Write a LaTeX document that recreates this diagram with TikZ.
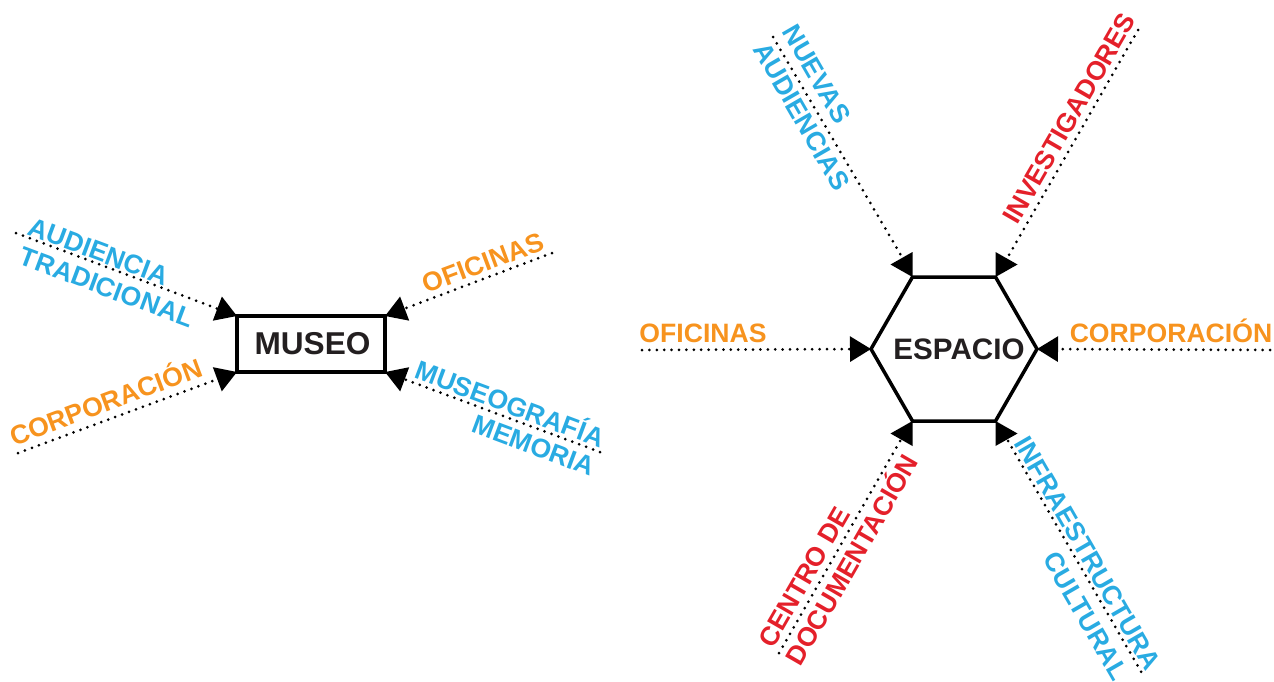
\documentclass[tikz,border=0pt]{standalone}
\usepackage{fontspec}
\setmainfont{Liberation Sans}
\usetikzlibrary{arrows.meta}
\definecolor{lblue}{HTML}{29ABE2}
\definecolor{lorange}{HTML}{F7931E}
\definecolor{lred}{HTML}{E4202A}
\definecolor{ink}{HTML}{231F20}
\begin{document}
\begin{tikzpicture}[x=1pt,y=-1pt,
  lbl/.style={font=\bfseries\fontsize{26.6}{30}\selectfont, inner sep=0pt, outer sep=0pt, text height=19pt, text depth=0pt, anchor=center},
  dotline/.style={line width=3pt, line cap=round, dash pattern=on 0pt off 7.4pt},
  tipped/.style={-{Triangle[length=21pt,width=25pt]}},
  museobox/.style={draw=black, line width=3.5pt, outer sep=0pt, inner sep=0pt, minimum width=148pt, minimum height=56pt, text=ink, font=\bfseries\fontsize{31.6}{34}\selectfont},
  hexline/.style={line width=3.5pt, line join=miter}
]
\useasboundingbox (0,0) rectangle (1274,681);

% ---------- left: MUSEO ----------
\node[museobox] (museo) at (311,344) {\hspace*{3pt}MUSEO};
\coordinate (a1) at (16,233);
\coordinate (a2) at (18,453);
\coordinate (a3) at (552,253);
\coordinate (a4) at (600,452);
\draw[dotline,tipped] (a1) -- (museo.north west);
\draw[dotline,tipped] (a2) -- (museo.south west);
\draw[dotline,tipped] (a3) -- (museo.north east);
\draw[dotline,tipped] (a4) -- (museo.south east);

\node[lbl,text=lblue,rotate=-20.5] (l1) at (99,251) {AUDIENCIA};
\node[lbl,text=lblue,rotate=-20.5] (l2) at (107,287) {TRADICIONAL};
\node[lbl,text=lorange,rotate=20.5] (l3) at (106,402) {CORPORACIÓN};
\node[lbl,text=lorange,rotate=20.5] (l4) at (483,262.5) {OFICINAS};
\node[lbl,text=lblue,rotate=-20.5] (l5) at (510,404) {MUSEOGRAFÍA};
\node[lbl,text=lblue,rotate=-20.5] (l6) at (534,445) {MEMORIA};

% ---------- right: ESPACIO ----------
\coordinate (h1) at (871,349);
\coordinate (h2) at (912.5,277);
\coordinate (h3) at (995.5,277);
\coordinate (h4) at (1037,349);
\coordinate (h5) at (995.5,421);
\coordinate (h6) at (912.5,421);
\draw[hexline] (h1) -- (h2) -- (h3) -- (h4) -- (h5) -- (h6) -- cycle;
\node[text=ink, font=\bfseries\fontsize{29.6}{32}\selectfont, inner sep=0pt] (espacio) at (959,349) {ESPACIO};

% horizontal arrows
\coordinate (b1) at (642,350);
\coordinate (b2) at (1270,350);
\draw[dotline,tipped] (b1) -- (h1);
\draw[dotline,tipped] (b2) -- (h4);

% diagonal connectors with horizontal triangles
\coordinate (c1) at (773,37);   \coordinate (c1e) at (902,257);
\coordinate (c2) at (1138,30);  \coordinate (c2e) at (1009,255);
\coordinate (c3) at (778,655);  \coordinate (c3e) at (900,441);
\coordinate (c4) at (1143,675); \coordinate (c4e) at (1008,441);
\draw[dotline] (c1) -- (c1e);
\draw[dotline] (c2) -- (c2e);
\draw[dotline] (c3e) -- (c3);
\draw[dotline] (c4e) -- (c4);
\fill (h2) -- ++(0,-25) -- ++(-22,12.5) -- cycle;
\fill (h3) -- ++(0,-25) -- ++(22,12.5) -- cycle;
\fill (h6) -- ++(0,25) -- ++(-22,-12.5) -- cycle;
\fill (h5) -- ++(0,25) -- ++(22,-12.5) -- cycle;

\node[lbl,text=lorange] (r1) at (703,333) {OFICINAS};
\node[lbl,text=lorange] (r2) at (1171,333) {CORPORACIÓN};
\node[lbl,text=lblue,rotate=-60] (r3) at (817,74) {NUEVAS};
\node[lbl,text=lblue,rotate=-60] (r4) at (802,116) {AUDIENCIAS};
\node[lbl,text=lred,rotate=60] (r5) at (1069,118) {INVESTIGADORES};
\node[lbl,text=lred,rotate=60] (r6) at (804,577) {CENTRO DE};
\node[lbl,text=lred,rotate=60] (r7) at (852,560) {DOCUMENTACIÓN};
\node[lbl,text=lblue,rotate=-60] (r8) at (1088,553) {INFRAESTRUCTURA};
\node[lbl,text=lblue,rotate=-60] (r9) at (1086,616) {CULTURAL};
\end{tikzpicture}
\end{document}
